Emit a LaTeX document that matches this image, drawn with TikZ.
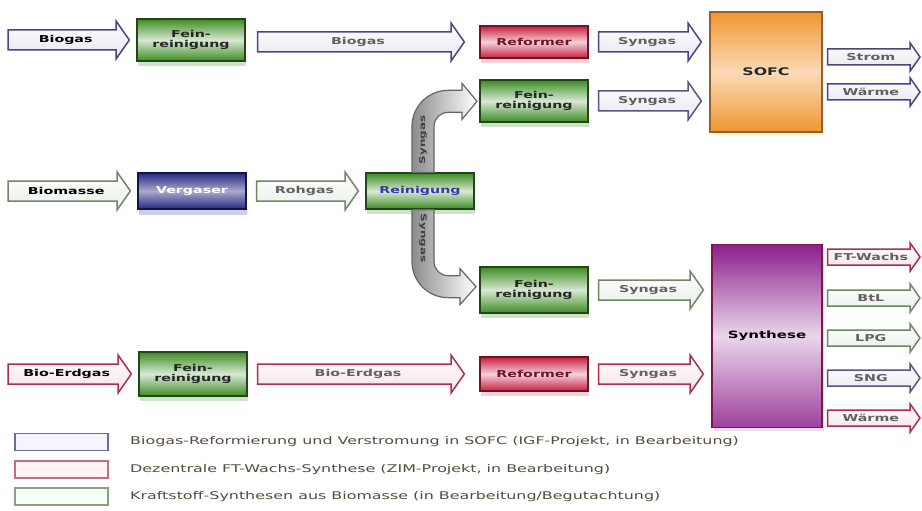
\documentclass[tikz,border=0pt]{standalone}
\usepackage{fontspec}
\setmainfont{DejaVu Sans}[FakeStretch=1.5]
\usetikzlibrary{calc,shadows}
\definecolor{blueln}{RGB}{70,70,135}
\definecolor{redln}{RGB}{175,45,75}
\definecolor{greenln}{RGB}{110,135,100}
\definecolor{gbase}{RGB}{60,140,35}
\definecolor{gborder}{RGB}{35,70,25}
\definecolor{rbase}{RGB}{200,30,60}
\definecolor{rborder}{RGB}{110,20,40}
\definecolor{bbase}{RGB}{40,40,130}
\definecolor{bborder}{RGB}{20,20,70}
\definecolor{obase}{RGB}{240,150,50}
\definecolor{oborder}{RGB}{150,95,45}
\definecolor{pbase}{RGB}{140,30,140}
\definecolor{pborder}{RGB}{130,20,70}
\definecolor{legtxt}{RGB}{85,75,60}
\definecolor{reintxt}{RGB}{50,60,160}
\tikzset{
  boxbase/.style={line width=1.3pt,align=center,inner sep=0pt,minimum width=108pt,
    font=\fontsize{9.5}{10.5}\selectfont\bfseries},
  gbox/.style={boxbase,draw=gborder,top color=gbase,bottom color=gbase,middle color=gbase!20,
    text=black!85,drop shadow={shadow xshift=1pt,shadow yshift=-5pt,fill=gbase!55,opacity=.45}},
  rbox/.style={boxbase,draw=rborder,top color=rbase,bottom color=rbase,middle color=rbase!20,
    text=rborder,drop shadow={shadow xshift=1pt,shadow yshift=-5pt,fill=rbase!45,opacity=.45}},
  bbox/.style={boxbase,draw=bborder,top color=bbase,bottom color=bbase,middle color=bbase!40,
    text=white,drop shadow={shadow xshift=1pt,shadow yshift=-6pt,fill=bbase!50,opacity=.45}},
  obox/.style={boxbase,draw=oborder,top color=obase,bottom color=obase,middle color=obase!35,
    text=black!85,font=\fontsize{10.5}{11}\selectfont\bfseries,
    drop shadow={shadow xshift=2pt,shadow yshift=-3pt,fill=yellow!50,opacity=.4}},
  pbox/.style={boxbase,draw=pborder,top color=pbase,bottom color=pbase!85,middle color=pbase!18,
    text=black,font=\fontsize{10}{11}\selectfont\bfseries,
    drop shadow={shadow xshift=2pt,shadow yshift=-3pt,fill=pbase!40,opacity=.4}},
  lbl/.style={inner sep=0pt,font=\fontsize{9.5}{10}\selectfont\bfseries,text=black!62},
  curvearrow/.style={line width=1.2pt,draw=black!60,left color=black!45,right color=white,
    line join=miter},
  legbox/.style={line width=1.5pt,minimum width=93pt,minimum height=17pt,inner sep=0pt},
  legtext/.style={anchor=west,inner sep=0pt,text=legtxt,font=\fontsize{10.6}{12}\selectfont},
}
% #1 name, #2 colour, #3 from, #4 to, #5 label, #6 half body, #7 half head
\newcommand\barrowgen[7]{%
  \draw[line width=1.5pt,draw=#2,top color=white,bottom color=#2!14,line join=miter]
    let \p1=(#3),\p2=(#4) in
    (\x1,\y2+#6) -- (\x2-0.7*#7,\y2+#6) -- (\x2-0.7*#7,\y2+#7) -- (\x2,\y2)
    -- (\x2-0.7*#7,\y2-#7) -- (\x2-0.7*#7,\y2-#6) -- (\x1,\y2-#6) -- cycle;
  \path let \p1=(#3),\p2=(#4) in node[lbl] (#1) at ({(\x1+\x2)/2-3pt},\y2) {#5};
}
\newcommand\barrow[5]{\barrowgen{#1}{#2}{#3}{#4}{#5}{10pt}{19pt}}
\newcommand\sarrow[5]{\barrowgen{#1}{#2}{#3}{#4}{#5}{8pt}{14pt}}
\begin{document}
\begin{tikzpicture}[x=1pt,y=-1pt]
\useasboundingbox (0,0) rectangle (922,511);
\fill[white] (0,0) rectangle (922,511);

% boxes
\node[gbox,minimum height=42pt] (fr1) at (191,40) {Fein-\\reinigung};
\node[rbox,minimum height=32pt] (ref1) at (534,42) {Reformer};
\node[obox,minimum width=112pt,minimum height=120pt] (sofc) at (766,72) {SOFC};
\node[gbox,minimum height=42pt] (fr2) at (534,101) {Fein-\\reinigung};
\node[bbox,minimum height=36pt] (verg) at (192,191) {Vergaser};
\node[gbox,minimum height=36pt,text=reintxt] (rein) at (420,191) {Reinigung};
\node[gbox,minimum height=46pt] (fr3) at (534,290) {Fein-\\reinigung};
\node[pbox,minimum width=110pt,minimum height=183pt] (syn) at (767,336) {Synthese};
\node[gbox,minimum height=44pt] (fr4) at (193,374) {Fein-\\reinigung};
\node[rbox,minimum height=34pt] (ref2) at (534,374) {Reformer};

% free ends
\coordinate (s1) at (8,42);
\coordinate (s3) at (8,191);
\coordinate (s5) at (8,373);
\coordinate (e1) at (920,57);
\coordinate (e2) at (920,92);
\coordinate (e3) at (920,257);
\coordinate (e4) at (920,298);
\coordinate (e5) at (920,338);
\coordinate (e6) at (920,378);
\coordinate (e7) at (920,418);

% straight block arrows
\barrow{a1}{blueln}{s1}{$(fr1.west)+(-7,0)$}{\color{black}Biogas}
\barrow{a2}{blueln}{$(fr1.east)+(12,0)$}{$(ref1.west)+(-15,0)$}{Biogas}
\barrow{a3}{blueln}{$(ref1.east)+(10,0)$}{$(sofc.west|-ref1)+(-8,0)$}{Syngas}
\barrow{a4}{blueln!70!gray}{$(fr2.east)+(10,0)$}{$(sofc.west|-fr2)+(-8,0)$}{Syngas}
\barrow{a5}{greenln}{s3}{$(verg.west)+(-7,0)$}{\color{black}Biomasse}
\barrow{a6}{greenln}{$(verg.east)+(10,0)$}{$(rein.west)+(-7,0)$}{Rohgas}
\barrow{a7}{greenln}{$(fr3.east)+(10,0)$}{$(syn.west|-fr3)+(-8,0)$}{Syngas}
\barrow{a8}{redln}{s5}{$(fr4.west)+(-7,0)$}{\color{black}Bio-Erdgas}
\barrow{a9}{redln}{$(fr4.east)+(10,0)$}{$(ref2.west)+(-15,0)$}{Bio-Erdgas}
\barrow{a10}{redln}{$(ref2.east)+(10,0)$}{$(syn.west|-ref2)+(-8,0)$}{Syngas}

% outputs
\sarrow{o1}{blueln}{$(sofc.east)+(5,0)$}{e1}{Strom}
\sarrow{o2}{blueln}{$(sofc.east)+(5,0)$}{e2}{Wärme}
\sarrow{o3}{redln}{$(syn.east)+(5,0)$}{e3}{FT-Wachs}
\sarrow{o4}{greenln}{$(syn.east)+(5,0)$}{e4}{BtL}
\sarrow{o5}{greenln}{$(syn.east)+(5,0)$}{e5}{LPG}
\sarrow{o6}{blueln!70!gray}{$(syn.east)+(5,0)$}{e6}{SNG}
\sarrow{o7}{redln}{$(syn.east)+(5,0)$}{e7}{Wärme}

% curved arrows from Reinigung
\draw[curvearrow] ($(rein.north)+(-8,0)$) -- ++(0,-46)
  arc[start angle=180,end angle=270,radius=36] -- ++(14,0) -- ++(0,-7)
  -- ++(15,18) -- ++(-15,18) -- ++(0,-7) -- ++(-14,0)
  arc[start angle=270,end angle=180,radius=14] -- ++(0,46) -- cycle;
\node[lbl,text=black!75,font=\fontsize{8}{9}\selectfont\bfseries,rotate=90] (cu) at (423,140) {Syngas};
\draw[curvearrow] ($(rein.south)+(-8,0)$) -- ++(0,52)
  arc[start angle=180,end angle=90,radius=36] -- ++(12,0) -- ++(0,7)
  -- ++(16,-18) -- ++(-16,-18) -- ++(0,7) -- ++(-12,0)
  arc[start angle=90,end angle=180,radius=14] -- ++(0,-52) -- cycle;
\node[lbl,text=black!75,font=\fontsize{8}{9}\selectfont\bfseries,rotate=-90] (cd) at (423,238) {Syngas};

% legend
\node[legbox,draw=blueln!80,fill=blue!4] (lg1) at (61.5,442) {};
\node[legbox,draw=redln!70,fill=red!4] (lg2) at (61.5,469.5) {};
\node[legbox,draw=greenln!80,fill=green!4] (lg3) at (61.5,496.5) {};
\node[legtext] (lt1) at (130,442) {Biogas-Reformierung und Verstromung in SOFC (IGF-Projekt, in Bearbeitung)};
\node[legtext] (lt2) at (130,469.5) {Dezentrale FT-Wachs-Synthese (ZIM-Projekt, in Bearbeitung)};
\node[legtext] (lt3) at (130,496.5) {Kraftstoff-Synthesen aus Biomasse (in Bearbeitung/Begutachtung)};
\end{tikzpicture}
\end{document}
